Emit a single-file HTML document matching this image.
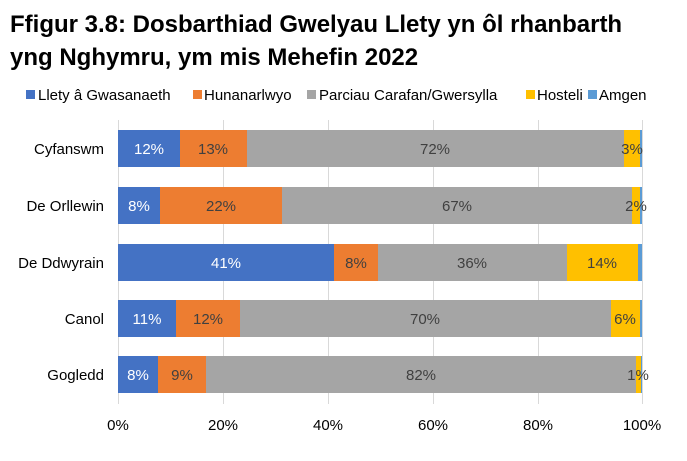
<!DOCTYPE html>
<html><head><meta charset="utf-8"><style>
body{margin:0;background:#fff;}
svg{display:block;font-family:"Liberation Sans",Arial,sans-serif;}
</style></head><body>
<svg width="687" height="461" viewBox="0 0 687 461" xmlns="http://www.w3.org/2000/svg">
<text x="10" y="32" font-size="24" font-weight="bold" fill="#000">Ffigur 3.8: Dosbarthiad Gwelyau Llety yn ôl rhanbarth</text>
<text x="10" y="65" font-size="24" font-weight="bold" fill="#000">yng Nghymru, ym mis Mehefin 2022</text>
<g font-size="15" fill="#000">
<rect x="26" y="90" width="9" height="9" fill="#4472C4"/><text x="38" y="100">Llety â Gwasanaeth</text>
<rect x="193" y="90" width="9" height="9" fill="#ED7D31"/><text x="204" y="100">Hunanarlwyo</text>
<rect x="307" y="90" width="9" height="9" fill="#A5A5A5"/><text x="319" y="100">Parciau Carafan/Gwersylla</text>
<rect x="526" y="90" width="9" height="9" fill="#FFC000"/><text x="537" y="100">Hosteli</text>
<rect x="588" y="90" width="9" height="9" fill="#5B9BD5"/><text x="599" y="100">Amgen</text>
</g>
<g stroke="#d9d9d9" stroke-width="1">
<line x1="118.5" y1="120" x2="118.5" y2="404"/>
<line x1="223.5" y1="120" x2="223.5" y2="404"/>
<line x1="328.5" y1="120" x2="328.5" y2="404"/>
<line x1="433.5" y1="120" x2="433.5" y2="404"/>
<line x1="538.5" y1="120" x2="538.5" y2="404"/>
<line x1="642.5" y1="120" x2="642.5" y2="404"/>
</g>
<g>
<rect x="118" y="130" width="62" height="37" fill="#4472C4"/>
<rect x="180" y="130" width="67" height="37" fill="#ED7D31"/>
<rect x="247" y="130" width="377" height="37" fill="#A5A5A5"/>
<rect x="624" y="130" width="16" height="37" fill="#FFC000"/>
<rect x="640" y="130" width="2" height="37" fill="#5B9BD5"/>
<rect x="118" y="187" width="42" height="37" fill="#4472C4"/>
<rect x="160" y="187" width="122" height="37" fill="#ED7D31"/>
<rect x="282" y="187" width="350" height="37" fill="#A5A5A5"/>
<rect x="632" y="187" width="8" height="37" fill="#FFC000"/>
<rect x="640" y="187" width="2" height="37" fill="#5B9BD5"/>
<rect x="118" y="244" width="216" height="37" fill="#4472C4"/>
<rect x="334" y="244" width="44" height="37" fill="#ED7D31"/>
<rect x="378" y="244" width="189" height="37" fill="#A5A5A5"/>
<rect x="567" y="244" width="71" height="37" fill="#FFC000"/>
<rect x="638" y="244" width="4" height="37" fill="#5B9BD5"/>
<rect x="118" y="300" width="58" height="37" fill="#4472C4"/>
<rect x="176" y="300" width="64" height="37" fill="#ED7D31"/>
<rect x="240" y="300" width="371" height="37" fill="#A5A5A5"/>
<rect x="611" y="300" width="29" height="37" fill="#FFC000"/>
<rect x="640" y="300" width="2" height="37" fill="#5B9BD5"/>
<rect x="118" y="356" width="40" height="37" fill="#4472C4"/>
<rect x="158" y="356" width="48" height="37" fill="#ED7D31"/>
<rect x="206" y="356" width="430" height="37" fill="#A5A5A5"/>
<rect x="636" y="356" width="5" height="37" fill="#FFC000"/>
<rect x="641" y="356" width="1" height="37" fill="#5B9BD5"/>
</g>
<g font-size="15" text-anchor="middle" fill="#404040">
<text x="149" y="154" fill="#fff">12%</text><text x="213" y="154">13%</text><text x="435" y="154">72%</text><text x="632" y="154">3%</text>
<text x="139" y="211" fill="#fff">8%</text><text x="221" y="211">22%</text><text x="457" y="211">67%</text><text x="636" y="211">2%</text>
<text x="226" y="268" fill="#fff">41%</text><text x="356" y="268">8%</text><text x="472" y="268">36%</text><text x="602" y="268">14%</text>
<text x="147" y="324" fill="#fff">11%</text><text x="208" y="324">12%</text><text x="425" y="324">70%</text><text x="625" y="324">6%</text>
<text x="138" y="380" fill="#fff">8%</text><text x="182" y="380">9%</text><text x="421" y="380">82%</text><text x="638" y="380">1%</text>
</g>
<g font-size="15" text-anchor="end" fill="#000">
<text x="104" y="154">Cyfanswm</text>
<text x="104" y="211">De Orllewin</text>
<text x="104" y="268">De Ddwyrain</text>
<text x="104" y="324">Canol</text>
<text x="104" y="380">Gogledd</text>
</g>
<g font-size="15" text-anchor="middle" fill="#000">
<text x="118" y="430">0%</text><text x="223" y="430">20%</text><text x="328" y="430">40%</text>
<text x="433" y="430">60%</text><text x="538" y="430">80%</text><text x="642" y="430">100%</text>
</g>
</svg>
</body></html>
